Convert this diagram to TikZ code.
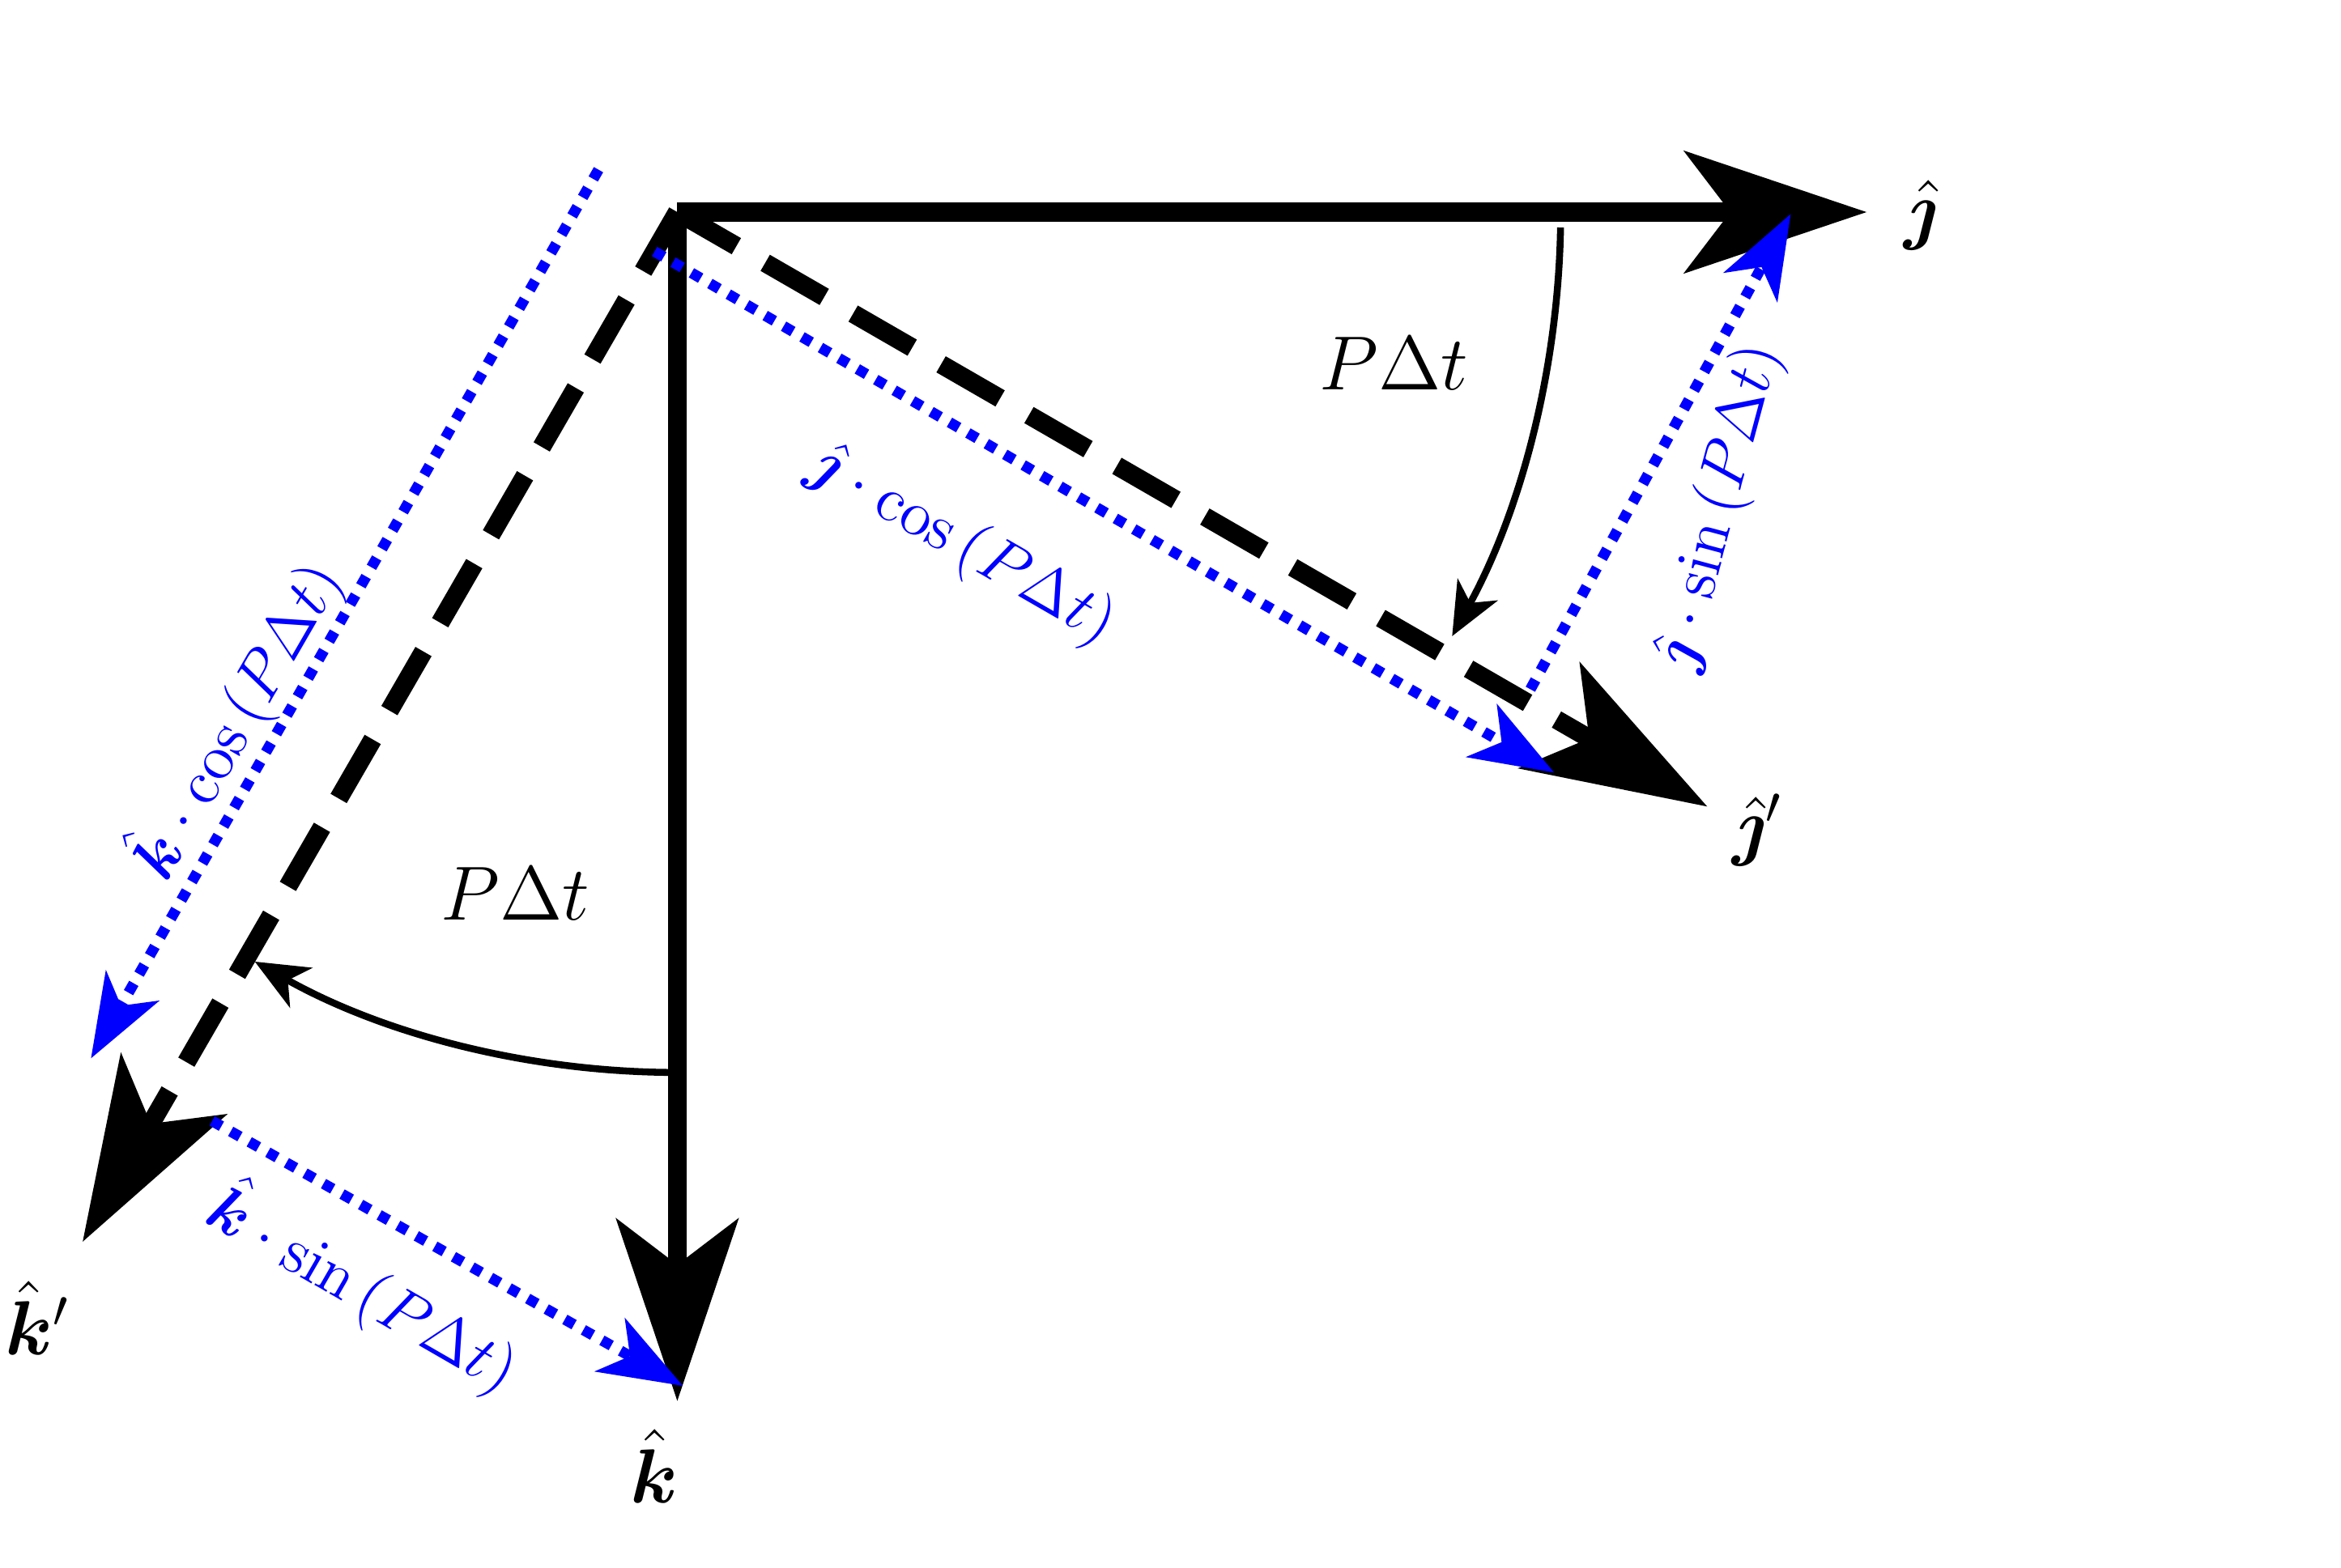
\documentclass[tikz,border=0pt]{standalone}
\usepackage{amssymb}
\usepackage{amsmath}
\usepackage{bm}
\usetikzlibrary{arrows.meta}
\tikzset{
  unitvec/.style={line width=3.5pt,-{Stealth[length=1.2cm,width=0.8cm,inset=0.3cm]}},
  rotvec/.style={unitvec,dash pattern=on 0.45cm off 0.22cm},
  compvec/.style={blue,line width=2pt,dotted,-{Stealth[length=0.55cm,width=0.4cm,inset=0.15cm,sep=-0.1cm]}},
  anglearc/.style={line width=1.3pt,-{Stealth[length=0.35cm,width=0.3cm,inset=0.1cm]}},
  complabel/.style={blue,font=\large}
}
\begin{document}
\begin{tikzpicture}
			\useasboundingbox (-4.47,-8.95) rectangle (10.98,1.40);
			\coordinate (O) at (0,0);
			\coordinate (J) at (7.85,0);
			\coordinate (K) at (0,-7.85);
			\coordinate (Jr) at (-30:7.85);
			\coordinate (Kr) at (240:7.85);
			\draw[unitvec] (O) -- (J);
			\draw[unitvec] (O) -- (K);
			\draw[rotvec] (O) -- (Jr);
			\draw[rotvec] (O) -- (Kr);
	%		components of the rotated vectors
			\draw[compvec] (-0.15,-0.26) -- (5.7,-3.65);
			\draw[compvec] (5.63,-3.15) -- (7.3,-0.10);
			\draw[compvec] (-0.52,0.28) -- (-3.82,-5.5);
			\draw[compvec] (-3.07,-6.0) -- (-0.05,-7.7);
			\draw[anglearc] (-1:5.83) arc [start angle=-1, end angle=-28.7, radius=5.83];
			\draw[anglearc] (270:5.68) arc [start angle=270, end angle=240.6, radius=5.68];
			\node[font=\Large] (lj) at (8.21,-0.02) {$\hat{\bm{\jmath}}$};
			\node[font=\Large] (ljr) at (7.13,-4.08) {$\hat{\bm{\jmath}}'$};
			\node[font=\Large] (lk) at (-0.15,-8.28) {$\hat{\bm{k}}$};
			\node[font=\Large] (lkr) at (-4.22,-7.3) {$\hat{\bm{k}}'$};
			\node[font=\Large] (a1) at (4.73,-1.0) {$P\Delta t$};
			\node[font=\Large] (a2) at (-1.07,-4.5) {$P\Delta t$};
			\node[complabel,rotate=-30] (c1) at (1.88,-2.2) {$\hat{\bm{\jmath}}\cdot\cos\left(P\Delta t\right)$};
			\node[complabel,rotate=75] (c2) at (6.88,-1.95) {$\hat{\bm{\jmath}}\cdot\sin\left(P\Delta t\right)$};
			\node[complabel,rotate=60] (c3) at (-2.92,-3.35) {$\hat{\bm{k}}\cdot\cos\left(P\Delta t\right)$};
			\node[complabel,rotate=-30] (c4) at (-2.07,-7.1) {$\hat{\bm{k}}\cdot\sin\left(P\Delta t\right)$};
\end{tikzpicture}
\end{document}
